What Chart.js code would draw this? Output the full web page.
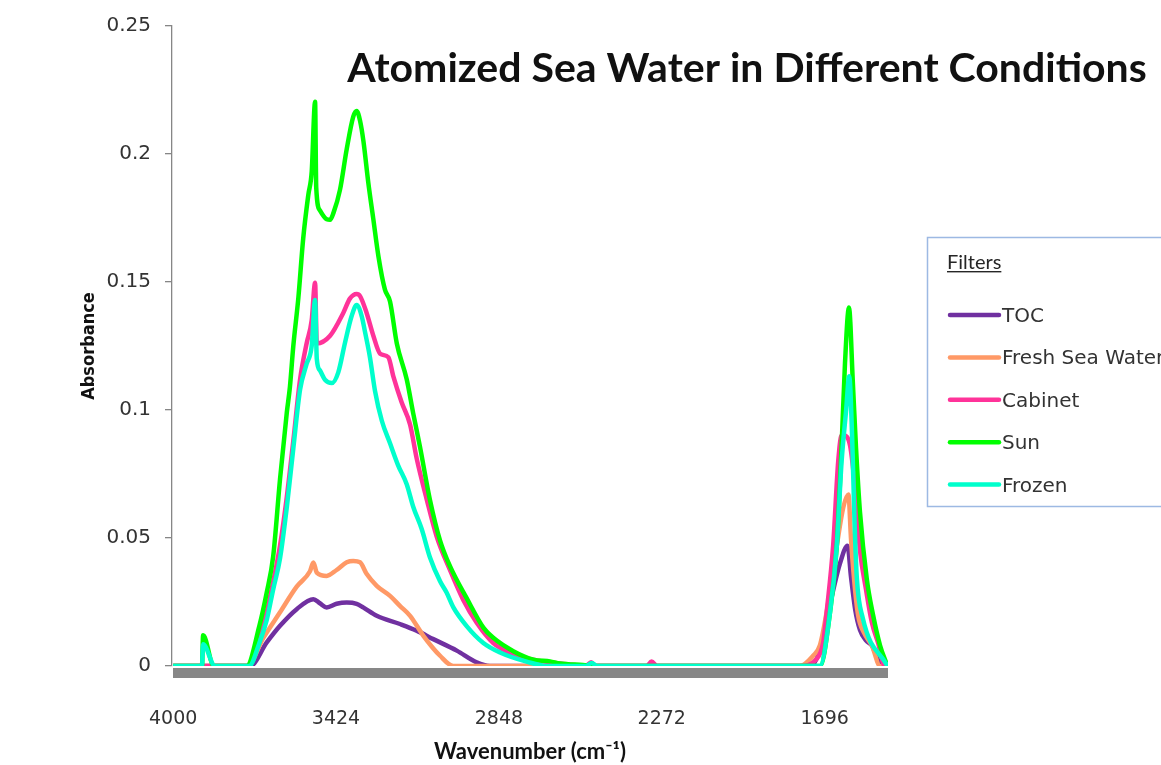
<!DOCTYPE html>
<html>
<head>
<meta charset="utf-8">
<script src="https://cdn.jsdelivr.net/npm/chart.js@4.4.1/dist/chart.umd.min.js"></script>
<style>
  html, body { margin: 0; padding: 0; background: #fff; }
  #chart { display: block; }
</style>
</head>
<body>
<canvas id="chart" width="1161" height="765"></canvas>
<script>
// series names / colours as in the legend
const seriesNames = ['TOC', 'Fresh Sea Water', 'Cabinet', 'Sun', 'Frozen'];
const seriesColors = ['#7030a0', '#ff9966', '#ff3399', '#00ff00', '#00ffcc'];
const xTicks = [4000, 3424, 2848, 2272, 1696];
const yTicks = [0, 0.05, 0.1, 0.15, 0.2, 0.25];
const yTickLabels = ['0', '0.05', '0.1', '0.15', '0.2', '0.25'];

// wavenumber (cm-1) and absorbance
const tocWn = [4000, 3728, 3669, 3622, 3563, 3504, 3481, 3457, 3422, 3386, 3351, 3328, 3280, 3198, 3139, 3080, 2997, 2927, 2880, 1748, 1713, 1689, 1665, 1642, 1615, 1603, 1588, 1571, 1550, 1529, 1493, 1474];
const tocAbs = [0, 0, 0.0092, 0.0157, 0.0222, 0.0261, 0.0245, 0.0229, 0.0243, 0.0248, 0.0243, 0.0229, 0.0196, 0.0164, 0.0138, 0.0105, 0.006, 0.0014, 0, 0, 0.006, 0.018, 0.03, 0.04, 0.047, 0.035, 0.022, 0.014, 0.01, 0.008, 0, 0];

const freshWn = [4000, 3738, 3681, 3622, 3563, 3516, 3504, 3492, 3457, 3422, 3386, 3363, 3339, 3316, 3280, 3233, 3198, 3162, 3115, 3056, 3009, 1784, 1737, 1713, 1689, 1653, 1630, 1612, 1603, 1592, 1578, 1557, 1529, 1500, 1474];
const freshAbs = [0, 0, 0.011, 0.021, 0.031, 0.037, 0.0404, 0.0365, 0.0352, 0.0375, 0.0405, 0.041, 0.0405, 0.036, 0.0313, 0.0274, 0.0235, 0.0196, 0.0118, 0.004, 0, 0, 0.004, 0.008, 0.021, 0.047, 0.062, 0.067, 0.05, 0.034, 0.02, 0.013, 0.008, 0, 0];

const cabinetWn = [4000, 3740, 3695, 3669, 3646, 3622, 3598, 3575, 3551, 3528, 3510, 3498, 3492, 3445, 3398, 3375, 3351, 3339, 3316, 3292, 3268, 3239, 3221, 3192, 3162, 3139, 3103, 3068, 3021, 2974, 2927, 2868, 2797, 2714, 2608, 2540, 2522, 2505, 2325, 2308, 2290, 1784, 1725, 1701, 1689, 1666, 1648, 1636, 1628, 1606, 1589, 1571, 1550, 1529, 1507, 1483, 1474];
const cabinetAbs = [0, 0, 0.011, 0.021, 0.033, 0.047, 0.066, 0.088, 0.112, 0.126, 0.135, 0.1497, 0.126, 0.129, 0.138, 0.1435, 0.1453, 0.1445, 0.138, 0.129, 0.122, 0.1206, 0.113, 0.103, 0.0943, 0.0812, 0.065, 0.0506, 0.0375, 0.0258, 0.017, 0.009, 0.0047, 0.0022, 0.0007, 0, 0.0015, 0, 0, 0.0018, 0, 0, 0.0027, 0.0093, 0.021, 0.047, 0.08, 0.09, 0.09, 0.086, 0.07, 0.045, 0.03, 0.017, 0.009, 0, 0];

const sunWn = [4000, 3898, 3894, 3856, 3740, 3695, 3669, 3646, 3622, 3598, 3587, 3575, 3557, 3540, 3522, 3510, 3498, 3494, 3481, 3457, 3445, 3433, 3410, 3386, 3363, 3351, 3339, 3327, 3310, 3292, 3274, 3251, 3233, 3209, 3174, 3151, 3127, 3092, 3056, 3021, 2962, 2903, 2868, 2797, 2726, 2667, 2632, 2551, 2500, 1712, 1677, 1653, 1636, 1624, 1610, 1596, 1585, 1571, 1547, 1525, 1500, 1474];
const sunAbs = [0, 0, 0.012, 0, 0, 0.0157, 0.0287, 0.043, 0.073, 0.099, 0.109, 0.125, 0.144, 0.167, 0.184, 0.193, 0.2204, 0.187, 0.178, 0.1745, 0.1743, 0.177, 0.186, 0.202, 0.2146, 0.2168, 0.213, 0.205, 0.189, 0.1745, 0.16, 0.147, 0.1424, 0.126, 0.112, 0.0987, 0.0856, 0.065, 0.049, 0.039, 0.0265, 0.015, 0.011, 0.0058, 0.0025, 0.0018, 0.001, 0.0004, 0, 0, 0.021, 0.047, 0.086, 0.1185, 0.14, 0.11, 0.085, 0.06, 0.034, 0.02, 0.008, 0];

const frozenWn = [4000, 3898, 3894, 3852, 3731, 3695, 3669, 3646, 3622, 3598, 3575, 3551, 3528, 3510, 3498, 3492, 3481, 3463, 3439, 3416, 3392, 3369, 3351, 3333, 3322, 3304, 3286, 3262, 3233, 3204, 3174, 3151, 3121, 3092, 3056, 3033, 3009, 2962, 2903, 2844, 2750, 2679, 2540, 2520, 2500, 1713, 1677, 1653, 1636, 1620, 1609, 1599, 1590, 1582, 1562, 1474];
const frozenAbs = [0, 0, 0.0085, 0, 0, 0.009, 0.018, 0.03, 0.042, 0.062, 0.085, 0.108, 0.118, 0.125, 0.143, 0.12, 0.1155, 0.1118, 0.1105, 0.1147, 0.1264, 0.1366, 0.141, 0.1366, 0.1308, 0.1206, 0.1074, 0.0958, 0.087, 0.0783, 0.071, 0.0622, 0.0535, 0.0425, 0.0331, 0.0287, 0.0229, 0.0156, 0.009, 0.0053, 0.0017, 0, 0, 0.0012, 0, 0, 0.021, 0.047, 0.08, 0.1, 0.1132, 0.09, 0.055, 0.034, 0.019, 0];

const allWn = [tocWn, freshWn, cabinetWn, sunWn, frozenWn];
const allAbs = [tocAbs, freshAbs, cabinetAbs, sunAbs, frozenAbs];

const toPoints = (xs, ys) => xs.map((x, i) => ({x: x, y: ys[i]}));

const datasets = seriesNames.map((name, i) => ({
  label: name,
  data: toPoints(allWn[i], allAbs[i]),
  borderColor: seriesColors[i],
  backgroundColor: seriesColors[i],
  borderWidth: 4.5,
  pointRadius: 0,
  cubicInterpolationMode: 'monotone',
  order: seriesNames.length - i   // last series on top
}));

// grey bar under the zero line
const baseBar = {
  id: 'baseBar',
  beforeDatasetsDraw(chart) {
    const {ctx, chartArea} = chart;
    ctx.save();
    ctx.fillStyle = '#878787';
    ctx.fillRect(chartArea.left + 1, chartArea.bottom + 2, chartArea.right - chartArea.left - 1, 10);
    ctx.restore();
  }
};

// title + boxed legend drawn on top
const extras = {
  id: 'extras',
  afterDraw(chart) {
    const ctx = chart.ctx;
    ctx.save();
    const title = 'Atomized Sea Water in Different Conditions';
    ctx.font = 'bold 38px Lato';
    let w = ctx.measureText(title).width;
    const size = 38 * 800 / w;
    ctx.font = 'bold ' + size.toFixed(1) + 'px Lato';
    ctx.fillStyle = '#111';
    ctx.textAlign = 'center';
    ctx.textBaseline = 'alphabetic';
    ctx.fillText(title, 747, 82);

    // legend box
    ctx.strokeStyle = '#9db9e3';
    ctx.lineWidth = 1.5;
    ctx.strokeRect(927.5, 237.5, 260, 269);

    ctx.textAlign = 'left';
    ctx.font = '20px Lato';
    ctx.fillStyle = '#262626';
    ctx.fillText('Filters', 947, 269);
    const fw = ctx.measureText('Filters').width;
    ctx.fillRect(947, 271, fw, 1.4);

    ctx.font = '20px "DejaVu Sans"';
    chart.data.datasets.forEach((ds, i) => {
      const y = 315 + i * 42.4;
      ctx.strokeStyle = ds.borderColor;
      ctx.lineWidth = 4.5;
      ctx.lineCap = 'round';
      ctx.beginPath();
      ctx.moveTo(950, y);
      ctx.lineTo(999, y);
      ctx.stroke();
      ctx.fillStyle = '#333';
      ctx.fillText(ds.label, 1002, y + 7);
    });
    ctx.restore();
  }
};

new Chart(document.getElementById('chart'), {
  type: 'line',
  data: { datasets: datasets },
  plugins: [baseBar, extras],
  options: {
    responsive: false,
    animation: false,
    devicePixelRatio: 1,
    layout: { padding: { left: 78, right: 273, top: 26, bottom: 0 } },
    plugins: { legend: { display: false }, tooltip: { enabled: false } },
    scales: {
      x: {
        type: 'linear',
        reverse: true,
        min: 1472,
        max: 4004,
        afterBuildTicks: (s) => { s.ticks = xTicks.map(v => ({value: v})); },
        afterFit: (s) => { s.height = 99; },
        grid: { display: false, drawTicks: false },
        border: { display: false },
        ticks: {
          padding: 42,
          autoSkip: false,
          maxRotation: 0,
          color: '#333',
          font: { family: 'DejaVu Sans', size: 19 },
          callback: (v) => String(v)
        },
        title: {
          display: true,
          text: 'Wavenumber (cm⁻¹)',
          color: '#111',
          padding: { top: 0, bottom: 0 },
          font: { family: 'Lato', size: 22, weight: 'bold' }
        }
      },
      y: {
        min: 0,
        max: 0.25,
        afterBuildTicks: (s) => { s.ticks = yTicks.map(v => ({value: v})); },
        afterFit: (s) => { s.width = 94; },
        grid: { drawOnChartArea: false, drawTicks: true, tickLength: 7, color: '#868686', lineWidth: 1.3 },
        border: { display: true, color: '#868686', width: 1.3 },
        ticks: {
          padding: 14,
          color: '#333',
          font: { family: 'DejaVu Sans', size: 20 },
          callback: (v, i) => yTickLabels[i]
        },
        title: {
          display: true,
          text: 'Absorbance',
          color: '#111',
          padding: { top: 1, bottom: 0 },
          font: { family: 'DejaVu Sans Condensed', size: 18, weight: 'bold' }
        }
      }
    }
  }
});
</script>
</body>
</html>
